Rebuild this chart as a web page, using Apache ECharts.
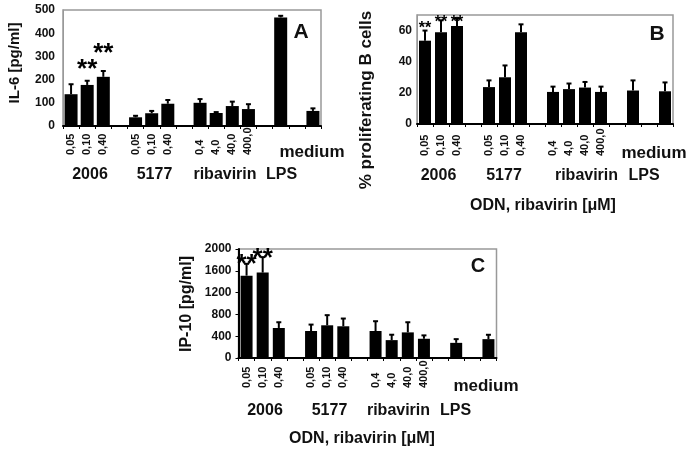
<!DOCTYPE html>
<html>
<head>
<meta charset="utf-8">
<script src="https://cdn.jsdelivr.net/npm/echarts@6/dist/echarts.min.js"></script>
<style>html,body{margin:0;padding:0;background:#fff}#c{width:697px;height:449px}</style>
</head>
<body>
<div id="c"></div>
<script>
// ---- data ----
const doseLabels = ['0,05','0,10','0,40','','0,05','0,10','0,40','','0,4','4,0','40,0','400,0','','','',''];
const groupLabels = ['2006','5177','ribavirin','LPS'];
const mediumLabel = 'medium';
const xTitle = 'ODN, ribavirin [μM]';

const il6Mean = [137,177,212,'-',37.5,55,96,'-',100,56,86,73,'-',468,'-',65];
const il6Top  = [180,195,237,'-',44,65,112,'-',116,60,105,94,'-',475,'-',76];
const il6Stars = [['1',267],['2',336]];

const bMean = [53.5,59,63,'-',23.7,30,59,'-',20.6,22.4,23.4,20.6,'-',21.5,'-',21];
const bTop  = [60,66.6,68,'-',28,37.6,64,'-',24,26,27,24,'-',28,'-',26.7];
const bStars = [['0',63.6],['1',67.4],['2',67.4]];

const ipMean = [1511,1567,551,'-',495,600,582,'-',495,328,470,353,'-',278,'-',346];
const ipTop  = [1728,1851,656,'-',613,786,724,'-',675,427,656,415,'-',346,'-',426];
const ipStars = [['0',1818],['1',1927]];

const FONT = '"Liberation Sans", Arial, sans-serif';
const chart = echarts.init(document.getElementById('c'), null, {renderer:'canvas'});

function errData(mean, top){
  const out = [];
  mean.forEach((m,i)=>{ if(m!=='-') out.push([i, m, top[i]]); });
  return out;
}
function errRender(params, api){
  const x = api.value(0), m = api.value(1), t = api.value(2);
  const p0 = api.coord([x, m]), p1 = api.coord([x, t]);
  return {type:'group', children:[
    {type:'line', shape:{x1:p0[0],y1:p0[1],x2:p1[0],y2:p1[1]}, style:{stroke:'#000',lineWidth:2}},
    {type:'line', shape:{x1:p1[0]-2.5,y1:p1[1],x2:p1[0]+2.5,y2:p1[1]}, style:{stroke:'#000',lineWidth:2}}
  ]};
}
function xAx(gi, margin){
  return {type:'category', gridIndex:gi, data:doseLabels, boundaryGap:true,
    axisLine:{lineStyle:{color:'#000',width:2}},
    axisTick:{show:true,length:3,lineStyle:{color:'#000',width:1}},
    axisLabel:{rotate:90, align:'left', margin:margin, interval:0, color:'#111',
      fontFamily:FONT, fontWeight:'bold', fontSize:11}};
}
function yAx(gi, max, interval, dark, margin, showMax){
  return {type:'value', gridIndex:gi, min:0, max:max, interval:interval,
    splitLine:{show:false},
    axisLine:{show:true, lineStyle:{color: dark ? '#000' : '#999', width: dark ? 2 : 1}},
    axisTick:{show: dark, length:3, lineStyle:{color:'#000'}},
    axisLabel:{margin:margin, color:'#111', fontFamily:FONT, fontWeight:'bold', fontSize:12,
      showMaxLabel:showMax, formatter: v => String(v)}};
}
function panelSeries(idx, mean, top, stars, barW, starSize){
  return [
    {type:'bar', xAxisIndex:idx, yAxisIndex:idx, data:mean, barWidth:barW,
     itemStyle:{color:'#000'}, silent:true, animation:false},
    {type:'custom', xAxisIndex:idx, yAxisIndex:idx, data:errData(mean, top),
     renderItem:errRender, encode:{x:0,y:[1,2]}, animation:false, silent:true, z:3},
    {type:'scatter', xAxisIndex:idx, yAxisIndex:idx, data:stars.map(s=>[Number(s[0]), s[1]]),
     symbolSize:0, animation:false, silent:true, z:4, itemStyle:{opacity:1, color:'#000'},
     label:{show:true, position:'inside', formatter:'**', color:'#000', textBorderWidth:0, opacity:1,
       fontFamily:FONT, fontWeight:'bold', fontSize:starSize, offset:[0, Math.round(starSize*0.22)]}}
  ];
}
function txt(x, y, s, size, rot){
  return {type:'text', x:x, y:y, rotation: rot || 0, z:10,
    style:{text:s, align:'center', verticalAlign:'middle', fill:'#111',
      font:'bold ' + size + 'px ' + FONT}};
}

const graphics = [
  // Panel A
  txt(15, 63, 'IL-6 [pg/ml]', 15, Math.PI/2),
  txt(301, 32, 'A', 21),
  txt(90, 175, groupLabels[0], 16), txt(154.5, 175, groupLabels[1], 16),
  txt(225, 175, groupLabels[2], 16), txt(281.5, 175, groupLabels[3], 16),
  txt(312, 152, mediumLabel, 17),
  // Panel B
  txt(366.5, 100, '% proliferating B cells', 17, Math.PI/2),
  txt(657, 34.5, 'B', 21),
  txt(438.5, 176, groupLabels[0], 16), txt(504, 176, groupLabels[1], 16),
  txt(586.5, 176, groupLabels[2], 16), txt(644, 176, groupLabels[3], 16),
  txt(654, 153, mediumLabel, 17),
  txt(543, 206, xTitle, 16),
  // Panel C
  txt(187, 304, 'IP-10 [pg/ml]', 16, Math.PI/2),
  txt(478, 266.5, 'C', 20),
  txt(265, 411, groupLabels[0], 16), txt(329.5, 411, groupLabels[1], 16),
  txt(398.5, 411, groupLabels[2], 16), txt(455.5, 411, groupLabels[3], 16),
  txt(486, 386, mediumLabel, 17),
  txt(362, 439, xTitle, 16)
];

chart.setOption({
  backgroundColor:'#fff',
  animation:false,
  grid:[
    {left:63, top:10, width:258, height:116, show:true, borderColor:'#999', borderWidth:1.5, backgroundColor:'transparent'},
    {left:417, top:15, width:256, height:109, show:true, borderColor:'#999', borderWidth:1.5, backgroundColor:'transparent'},
    {left:238.5, top:249, width:258, height:109, show:true, borderColor:'#999', borderWidth:1.5, backgroundColor:'transparent'}
  ],
  xAxis:[xAx(0, 29), xAx(1, 32), xAx(2, 30)],
  yAxis:[yAx(0, 500, 100, false, 8, true), yAx(1, 70, 20, false, 5, false), yAx(2, 2000, 400, true, 7, true)],
  series:[].concat(
    panelSeries(0, il6Mean, il6Top, il6Stars, 13, 26),
    panelSeries(1, bMean, bTop, bStars, 12, 16),
    panelSeries(2, ipMean, ipTop, ipStars, 12, 26)
  ),
  graphic: graphics
});
</script>
</body>
</html>
